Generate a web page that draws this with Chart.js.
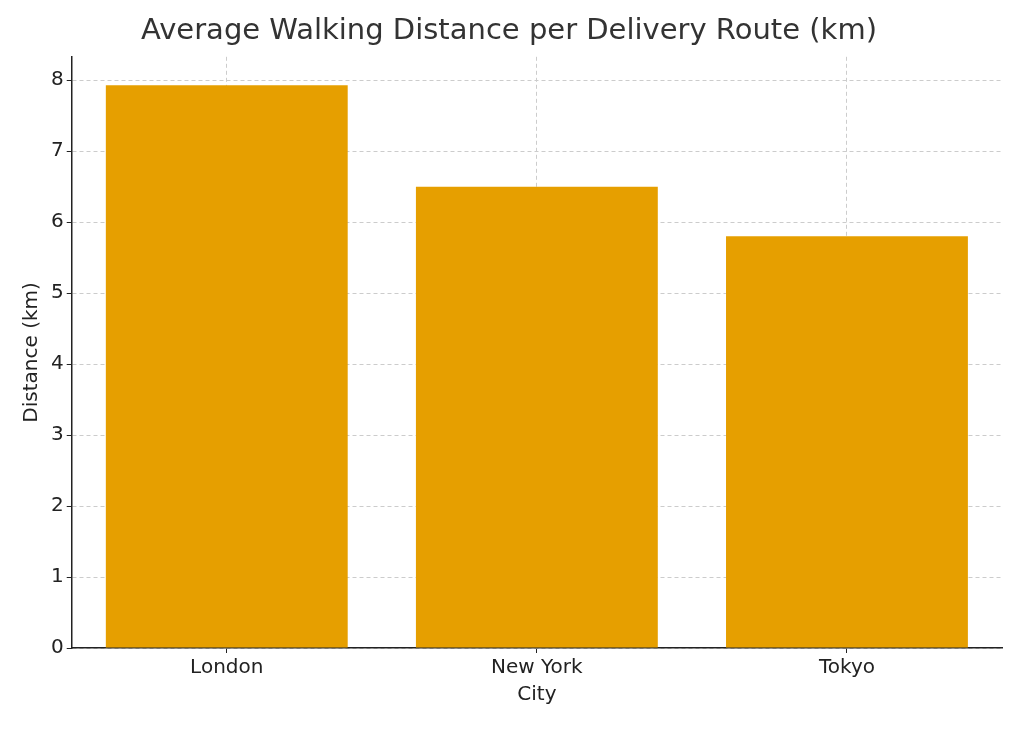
<!DOCTYPE html>
<html>
<head>
<meta charset="utf-8">
<script src="https://cdn.jsdelivr.net/npm/chart.js@4"></script>
<style>
  html, body { margin: 0; padding: 0; background: #fff; }
  #wrap { width: 1024px; height: 731px; }
</style>
</head>
<body>
<div id="wrap"><canvas id="chart"></canvas></div>
<script>
const cities = ['London', 'New York', 'Tokyo'];
const distances = [7.93, 6.5, 5.8];
const yTicks = [0, 1, 2, 3, 4, 5, 6, 7, 8];

const ctx = document.getElementById('chart').getContext('2d');
new Chart(ctx, {
    type: 'bar',
    data: {
        labels: cities,
        datasets: [{
            data: distances,
            backgroundColor: '#E69F00',
            barPercentage: 0.78,
            categoryPercentage: 1.0
        }]
    },
    options: {
        responsive: true,
        maintainAspectRatio: false,
        animation: false,
        layout: { padding: { top: 14, right: 22, left: 16, bottom: 20 } },
        plugins: {
            legend: { display: false },
            tooltip: { enabled: false },
            title: {
                display: true,
                text: 'Average Walking Distance per Delivery Route (km)',
                color: '#333',
                font: { family: 'DejaVu Sans', size: 29, weight: 'normal' },
                padding: { top: 0, bottom: 8 }
            }
        },
        scales: {
            x: {
                offset: true,
                title: { display: true, text: 'City', color: '#222', font: { family: 'DejaVu Sans', size: 20 }, padding: { top: 0 } },
                ticks: { color: '#222', font: { family: 'DejaVu Sans', size: 20 } },
                grid: { color: '#cccccc', tickColor: '#222', tickLength: 5, offset: false },
                border: { color: '#222', width: 1.5, dash: [4, 3] }
            },
            y: {
                min: 0,
                max: 8.33,
                afterBuildTicks: axis => { axis.ticks = yTicks.map(v => ({ value: v })); },
                title: { display: true, text: 'Distance (km)', color: '#222', font: { family: 'DejaVu Sans', size: 20 } },
                ticks: { color: '#222', font: { family: 'DejaVu Sans', size: 20 } },
                grid: { color: '#cccccc', tickColor: '#222', tickLength: 5 },
                border: { color: '#222', width: 1.5, dash: [4, 3] }
            }
        }
    }
});
</script>
</body>
</html>
